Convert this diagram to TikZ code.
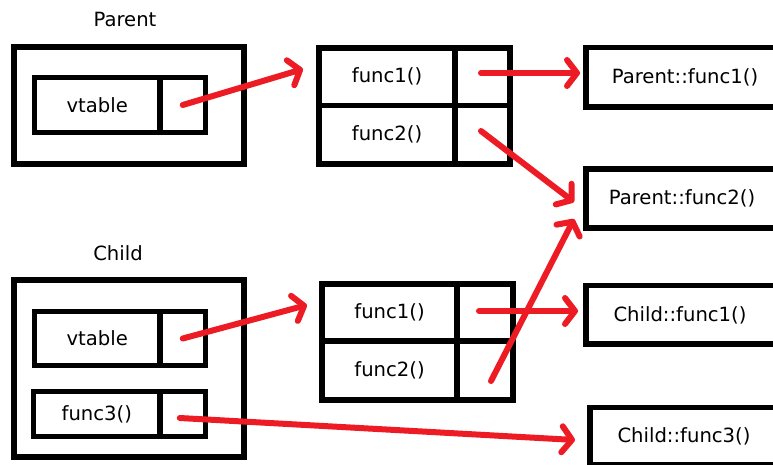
\documentclass[tikz,border=0pt]{standalone}
\usepackage{fontspec}
\setmainfont{DejaVu Sans}
\usetikzlibrary{arrows.meta,calc}
\definecolor{pred}{RGB}{237,28,36}
\begin{document}
\begin{tikzpicture}[x=1pt,y=-1pt,
  frame/.style={draw=black,line width=5.5pt,inner sep=0pt,font=\fontsize{19.6}{23}\selectfont},
  lbl/.style={inner sep=0pt,font=\fontsize{19.6}{23}\selectfont},
  arr/.style={draw=pred,line width=6pt,line cap=round,line join=round,
    -{Straight Barb[length=10pt,width=26pt,line cap=round,line join=round]}}]
\useasboundingbox (0,0) rectangle (773,465);
\clip (0,0) rectangle (773,465);
% Parent object
\node[lbl] (ptitle) at (125,19) {Parent};
\node[frame,minimum width=230,minimum height=117] (pobj) at (129,105.5) {};
\node[frame,minimum width=125.5,minimum height=55] (pvt) at (97.25,105) {vtable};
\node[frame,minimum width=45.5,minimum height=55] (pvp) at (182.75,105) {};
% Parent vtable
\node[frame,minimum width=136,minimum height=57.5] (pf1) at (387,76.75) {func1()};
\node[frame,minimum width=55,minimum height=57.5] (pf1p) at (482.5,76.75) {};
\node[frame,minimum width=136,minimum height=58.5] (pf2) at (387,134.75) {func2()};
\node[frame,minimum width=55,minimum height=58.5] (pf2p) at (482.5,134.75) {};
% Right boxes
\node[frame,minimum width=214,minimum height=59.5] (rpf1) at (693,77.25) {};
\node[lbl] (rpf1t) at (685,77) {Parent::func1()};
\node[frame,minimum width=214,minimum height=59] (rpf2) at (693,198.5) {};
\node[lbl] (rpf2t) at (682,198) {Parent::func2()};
\node[frame,minimum width=214,minimum height=58.5] (rcf1) at (693,314.75) {};
\node[lbl] (rcf1t) at (680,315) {Child::func1()};
\node[frame,minimum width=210,minimum height=57] (rcf3) at (695,436) {};
\node[lbl] (rcf3t) at (684,436) {Child::func3()};
% Child object
\node[lbl] (ctitle) at (118,253) {Child};
\node[frame,minimum width=230,minimum height=177] (cobj) at (129,368.5) {};
\node[frame,minimum width=125.5,minimum height=54] (cvt) at (97.25,338.5) {vtable};
\node[frame,minimum width=45.5,minimum height=54] (cvp) at (182.75,338.5) {};
\node[frame,minimum width=126.5,minimum height=45] (cf3) at (96.75,414) {func3()};
\node[frame,minimum width=45.5,minimum height=45] (cf3p) at (182.75,414) {};
% Child vtable
\node[frame,minimum width=135,minimum height=57] (cf1) at (389.5,312.5) {func1()};
\node[frame,minimum width=56,minimum height=57] (cf1p) at (485,312.5) {};
\node[frame,minimum width=135,minimum height=59] (cf2) at (389.5,370.5) {func2()};
\node[frame,minimum width=56,minimum height=59] (cf2p) at (485,370.5) {};
% arrow tips
\coordinate (t1) at (303,69);
\coordinate (t2) at (580,73);
\coordinate (t3) at (574,202);
\coordinate (t4) at (307,305);
\coordinate (t5) at (578,311);
\coordinate (t6) at (574,219);
\coordinate (t7) at (575,440);
% arrows
\draw[arr] (pvp.center) -- (t1);
\draw[arr] ($(pf1p.center)+(-1.5,-3.75)$) -- (t2);
\draw[arr] ($(pf2p.center)+(-1.5,-3.75)$) -- (t3);
\draw[arr] (cvp.center) -- (t4);
\draw[arr] ($(cf1p.center)+(-6,-1.5)$) -- (t5);
\draw[arr] ($(cf2p.center)+(6,10.5)$) -- (t6);
\draw[arr] ($(cf3p.center)+(-3,4)$) -- (t7);
\end{tikzpicture}
\end{document}
